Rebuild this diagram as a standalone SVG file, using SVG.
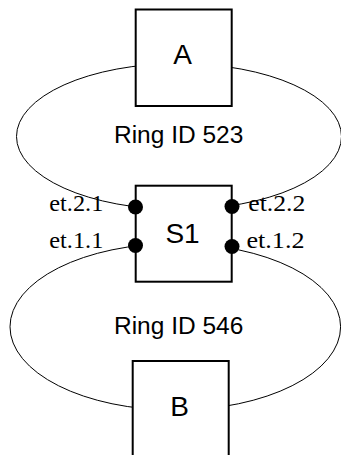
<svg xmlns="http://www.w3.org/2000/svg" width="341" height="455" viewBox="0 0 341 455">
  <style>
    .ring { fill: none; stroke: #000; stroke-width: 1; }
    .box { fill: #fff; stroke: #000; stroke-width: 2; }
    .port { fill: #000; }
    .name { font-family: "Liberation Sans", Arial, sans-serif; font-size: 28px; fill: #000; text-anchor: middle; }
    .ringid { font-family: "Liberation Sans", Arial, sans-serif; font-size: 23px; fill: #000; }
    .portlbl { font-family: "Liberation Serif", "Times New Roman", serif; font-size: 24px; fill: #000; }
  </style>
  <rect width="341" height="455" fill="#fff"/>

  <!-- ring links -->
  <g id="connectors">
    <ellipse class="ring" cx="179" cy="136.5" rx="162.5" ry="73"/>
    <ellipse class="ring" cx="175.3" cy="326.8" rx="165.3" ry="83.3"/>
  </g>

  <g id="node-A">
    <rect class="box" x="135.7" y="9.5" width="96" height="96.5"/>
    <text class="name" x="182.5" y="63.5">A</text>
  </g>

  <g id="node-S1">
    <rect class="box" x="135.7" y="185.7" width="96" height="96"/>
    <text class="name" x="182.5" y="242.5">S1</text>
    <circle class="port" cx="135.5" cy="207" r="7.5"/>
    <circle class="port" cx="135.5" cy="245.5" r="7.5"/>
    <circle class="port" cx="232" cy="206.5" r="7.5"/>
    <circle class="port" cx="232" cy="246.5" r="7.5"/>
  </g>

  <g id="node-B">
    <rect class="box" x="132.7" y="361" width="96" height="100"/>
    <text class="name" x="179.5" y="415.5">B</text>
  </g>

  <g id="labels">
    <text class="ringid" x="114" y="143" textLength="129.3" lengthAdjust="spacingAndGlyphs">Ring ID 523</text>
    <text class="ringid" x="114" y="333.5" textLength="129.3" lengthAdjust="spacingAndGlyphs">Ring ID 546</text>
    <text class="portlbl" x="49.3" y="211" textLength="54" lengthAdjust="spacingAndGlyphs">et.2.1</text>
    <text class="portlbl" x="49.3" y="247.5" textLength="54" lengthAdjust="spacingAndGlyphs">et.1.1</text>
    <text class="portlbl" x="248.3" y="211" textLength="57" lengthAdjust="spacingAndGlyphs">et.2.2</text>
    <text class="portlbl" x="246.5" y="247.5" textLength="58" lengthAdjust="spacingAndGlyphs">et.1.2</text>
  </g>
</svg>
